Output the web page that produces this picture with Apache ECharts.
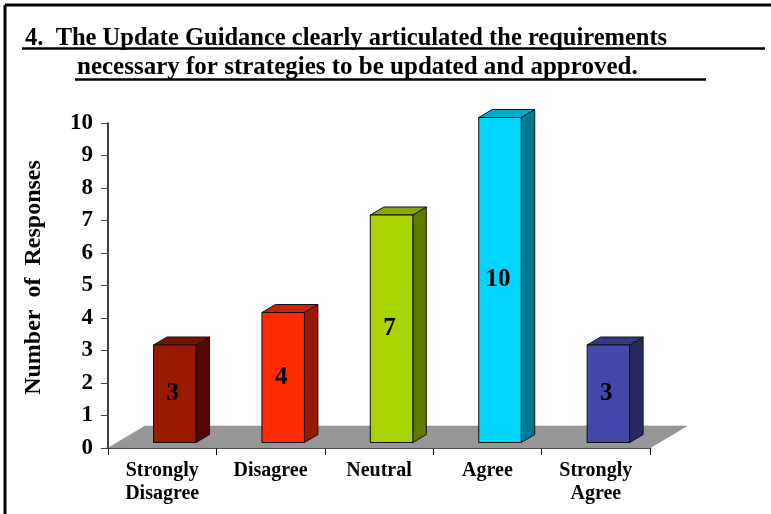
<!DOCTYPE html>
<html><head><meta charset="utf-8">
<script src="https://cdn.jsdelivr.net/npm/echarts@6/dist/echarts.min.js"></script>
<style>html,body{margin:0;padding:0;background:#fff}#c{width:771px;height:514px}</style>
</head><body><div id="c"></div>
<script>
// ---- data ----
const categories = ['Strongly Disagree', 'Disagree', 'Neutral', 'Agree', 'Strongly Agree'];
const responses = [3, 4, 7, 10, 3];
const yTicks = [0, 1, 2, 3, 4, 5, 6, 7, 8, 9, 10];
const titleLines = [
  '4.  The Update Guidance clearly articulated the requirements',
  'necessary for strategies to be updated and approved.'
];
const yAxisTitle = 'Number  of  Responses';

// ---- styles ----
const frontColors = ['#991a00', '#ff2a00', '#aad400', '#00d4ff', '#4448a8'];
const sideColors  = ['#560800', '#9a1a00', '#5f7a00', '#007a92', '#262962'];
const topColors   = ['#7a1200', '#cc2200', '#88aa00', '#00a8cc', '#333888'];
const SERIF = '"Liberation Serif","Times New Roman",serif';

const chart = echarts.init(document.getElementById('c'), null, { renderer: 'canvas' });

function renderFloor(params, api) {
  const band = api.size([1, 0])[0];
  const p0 = api.coord([0, 0]);
  const p1 = api.coord([categories.length - 1, 0]);
  const left = p0[0] - band / 2, right = p1[0] + band / 2, y = p0[1];
  const dx = 37, dy = -22;
  return {
    type: 'polygon',
    shape: { points: [[left, y], [right, y], [right + dx, y + dy], [left + dx, y + dy]] },
    style: { fill: '#969696', stroke: '#888', lineWidth: 0.5 }
  };
}

function renderBar(params, api) {
  const idx = api.value(0);
  const v = api.value(1);
  const base = api.coord([idx, 0]);
  const top = api.coord([idx, v]);
  const band = api.size([1, 0])[0];
  const shiftY = -5.5;
  const x0 = base[0] - band * 0.08;
  const x1 = x0 + band * 0.392;
  const yb = base[1] + shiftY;
  const yt = top[1] + shiftY;
  const dx = 13.5, dy = -8;
  const edge = { stroke: '#111', lineWidth: 1 };
  return {
    type: 'group',
    children: [
      { type: 'polygon', shape: { points: [[x1, yb], [x1 + dx, yb + dy], [x1 + dx, yt + dy], [x1, yt]] },
        style: Object.assign({ fill: sideColors[idx] }, edge) },
      { type: 'polygon', shape: { points: [[x0, yt], [x1, yt], [x1 + dx, yt + dy], [x0 + dx, yt + dy]] },
        style: Object.assign({ fill: topColors[idx] }, edge) },
      { type: 'rect', shape: { x: x0, y: yt, width: x1 - x0, height: yb - yt },
        style: Object.assign({ fill: frontColors[idx] }, edge) },
      { type: 'text', x: (x0 + x1) / 2 - 2, y: (yt + yb) / 2,
        style: { text: String(v), fill: '#000', font: 'bold 25px ' + SERIF, align: 'center', verticalAlign: 'middle' } }
    ]
  };
}

const option = {
  animation: false,
  backgroundColor: '#fff',
  title: [
    { text: titleLines[0], left: 25, top: 26, padding: 0,
      textStyle: { fontFamily: SERIF, fontWeight: 'bold', fontSize: 24.5, color: '#000' } },
    { text: titleLines[1], left: 77, top: 55, padding: 0,
      textStyle: { fontFamily: SERIF, fontWeight: 'bold', fontSize: 25, color: '#000' } }
  ],
  graphic: [
    { type: 'line', shape: { x1: 5, y1: 5, x2: 771, y2: 5 }, style: { stroke: '#000', lineWidth: 3 } },
    { type: 'line', shape: { x1: 5, y1: 5, x2: 5, y2: 514 }, style: { stroke: '#000', lineWidth: 3 } },
    { type: 'line', shape: { x1: 22, y1: 48.5, x2: 765, y2: 48.5 }, style: { stroke: '#000', lineWidth: 2.5 } },
    { type: 'line', shape: { x1: 75, y1: 79.5, x2: 706, y2: 79.5 }, style: { stroke: '#000', lineWidth: 2.5 } }
  ],
  grid: { left: 108, right: 121, top: 123, bottom: 66, containLabel: false },
  xAxis: {
    type: 'category',
    data: categories,
    boundaryGap: true,
    axisLine: { show: true, lineStyle: { color: '#000', width: 1.5 } },
    axisTick: { show: true, inside: false, length: 7, alignWithLabel: false, lineStyle: { color: '#000' } },
    axisLabel: { interval: 0, margin: 11, fontFamily: SERIF, fontWeight: 'bold', fontSize: 20, lineHeight: 23, color: '#000',
      formatter: v => v.replace(' ', '\n') },
    splitLine: { show: false }
  },
  yAxis: {
    type: 'value', min: yTicks[0], max: yTicks[yTicks.length - 1], interval: 1,
    name: yAxisTitle, nameLocation: 'middle', nameRotate: 90, nameGap: 62,
    nameTextStyle: { fontFamily: SERIF, fontWeight: 'bold', fontSize: 24, color: '#000', padding: [0, 0, 0, 16] },
    axisLine: { show: true, lineStyle: { color: '#000', width: 1.5 } },
    axisTick: { show: true, inside: false, length: 7, lineStyle: { color: '#444' } },
    axisLabel: { margin: 15, fontFamily: SERIF, fontWeight: 'bold', fontSize: 23, color: '#000' },
    splitLine: { show: false }
  },
  series: [
    { type: 'custom', name: 'floor', renderItem: renderFloor, data: [[0, 0]], clip: false, z: 1, silent: true },
    { type: 'custom', name: 'Responses', renderItem: renderBar, clip: false, z: 2,
      encode: { x: 0, y: 1 },
      data: categories.map((c, i) => [i, responses[i]]) }
  ]
};
chart.setOption(option);
</script>
</body></html>
